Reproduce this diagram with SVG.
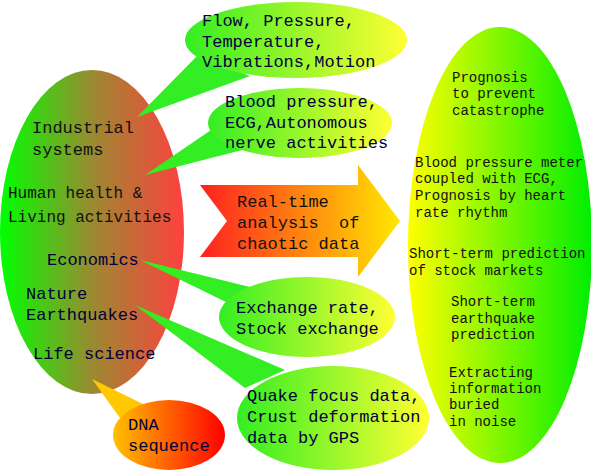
<svg xmlns="http://www.w3.org/2000/svg" width="591" height="472" viewBox="0 0 591 472">
  <defs>
    <linearGradient id="gLeft" x1="0" y1="0" x2="1" y2="0">
      <stop offset="0" stop-color="#00ff00"/>
      <stop offset="0.5" stop-color="#9a8a30"/>
      <stop offset="1" stop-color="#ff4040"/>
    </linearGradient>
    <linearGradient id="gBubble" x1="0" y1="0" x2="1" y2="0">
      <stop offset="0" stop-color="#33ee22"/>
      <stop offset="1" stop-color="#ffff33"/>
    </linearGradient>
    <linearGradient id="gDna" x1="0" y1="0" x2="1" y2="0">
      <stop offset="0" stop-color="#ffc000"/>
      <stop offset="1" stop-color="#ff0000"/>
    </linearGradient>
    <linearGradient id="gArrow" x1="0" y1="0" x2="1" y2="0">
      <stop offset="0" stop-color="#ff2020"/>
      <stop offset="1" stop-color="#ffe800"/>
    </linearGradient>
    <linearGradient id="gRight" x1="0" y1="0" x2="1" y2="0">
      <stop offset="0" stop-color="#ffff00"/>
      <stop offset="1" stop-color="#00ee00"/>
    </linearGradient>
  </defs>
  <style>
    text { font-family: "Liberation Mono", "DejaVu Sans Mono", monospace; white-space: pre; }
    .b { font-size: 17px; fill: #00003a; }
    .k { font-size: 17px; fill: #111111; }
    .h { font-size: 16px; fill: #111111; }
    .r { font-size: 14px; fill: #111111; }
    .tail { fill: #33ee22; }
  </style>

  <g id="left-domains">
    <ellipse cx="92" cy="232" rx="92" ry="162" fill="url(#gLeft)"/>
  </g>

  <g id="right-results">
    <ellipse cx="500" cy="245" rx="92" ry="218" fill="url(#gRight)"/>
  </g>

  <g id="connectors">
    <polygon class="tail" points="137,117 197,56 250,76"/>
    <polygon class="tail" points="145,175 214,128 242,150"/>
    <polygon class="tail" points="140,260 250,287 228,303"/>
    <polygon class="tail" points="135,305 285,370 245,388"/>
    <polygon fill="#ffc800" points="92,379 145,405 120,418"/>
  </g>

  <g id="bubble-industrial">
    <ellipse cx="296" cy="40" rx="111" ry="38" fill="url(#gBubble)"/>
    <text class="b" x="202" y="26">Flow, Pressure,</text>
    <text class="b" x="202" y="47">Temperature,</text>
    <text class="b" x="202" y="67">Vibrations,Motion</text>
  </g>

  <g id="bubble-health">
    <ellipse cx="300" cy="123" rx="92" ry="35" fill="url(#gBubble)"/>
    <text class="b" x="225" y="107">Blood pressure,</text>
    <text class="b" x="225" y="128">ECG,Autonomous</text>
    <text class="b" x="225" y="148">nerve activities</text>
  </g>

  <g id="bubble-economics">
    <ellipse cx="307" cy="317" rx="88" ry="40" fill="url(#gBubble)"/>
    <text class="b" x="236" y="313">Exchange rate,</text>
    <text class="b" x="236" y="334">Stock exchange</text>
  </g>

  <g id="bubble-earthquake">
    <ellipse cx="333" cy="418" rx="96" ry="52" fill="url(#gBubble)"/>
    <text class="b" x="247" y="401">Quake focus data,</text>
    <text class="b" x="247" y="422">Crust deformation</text>
    <text class="b" x="247" y="443">data by GPS</text>
  </g>

  <g id="bubble-dna">
    <ellipse cx="169" cy="435" rx="56" ry="35" fill="url(#gDna)"/>
    <text class="b" x="128" y="430">DNA</text>
    <text class="b" x="128" y="451">sequence</text>
  </g>

  <g id="arrow-analysis">
    <polygon points="200,185 358,185 358,165 400,221 358,277 358,257 200,257 227,221" fill="url(#gArrow)"/>
    <text class="k" x="237" y="207">Real-time</text>
    <text class="k" x="237" y="228">analysis  of</text>
    <text class="k" x="237" y="249">chaotic data</text>
  </g>

  <g id="left-labels">
    <text class="k" x="32" y="133">Industrial</text>
    <text class="k" x="32" y="155">systems</text>
    <text class="h" x="8" y="198">Human health &amp;</text>
    <text class="h" x="8" y="222">Living activities</text>
    <text class="b" x="47" y="265">Economics</text>
    <text class="b" x="26" y="299">Nature</text>
    <text class="b" x="26" y="320">Earthquakes</text>
    <text class="b" x="33" y="359">Life science</text>
  </g>

  <g id="right-labels">
    <text class="r" x="452" y="82">Prognosis</text>
    <text class="r" x="452" y="98">to prevent</text>
    <text class="r" x="452" y="115">catastrophe</text>
    <text class="r" x="415" y="167">Blood pressure meter</text>
    <text class="r" x="415" y="183">coupled with ECG,</text>
    <text class="r" x="415" y="200">Prognosis by heart</text>
    <text class="r" x="415" y="217">rate rhythm</text>
    <text class="r" x="409" y="258">Short-term prediction</text>
    <text class="r" x="409" y="275">of stock markets</text>
    <text class="r" x="451" y="306">Short-term</text>
    <text class="r" x="451" y="323">earthquake</text>
    <text class="r" x="451" y="339">prediction</text>
    <text class="r" x="449" y="377">Extracting</text>
    <text class="r" x="449" y="393">information</text>
    <text class="r" x="449" y="409">buried</text>
    <text class="r" x="449" y="426">in noise</text>
  </g>
</svg>
